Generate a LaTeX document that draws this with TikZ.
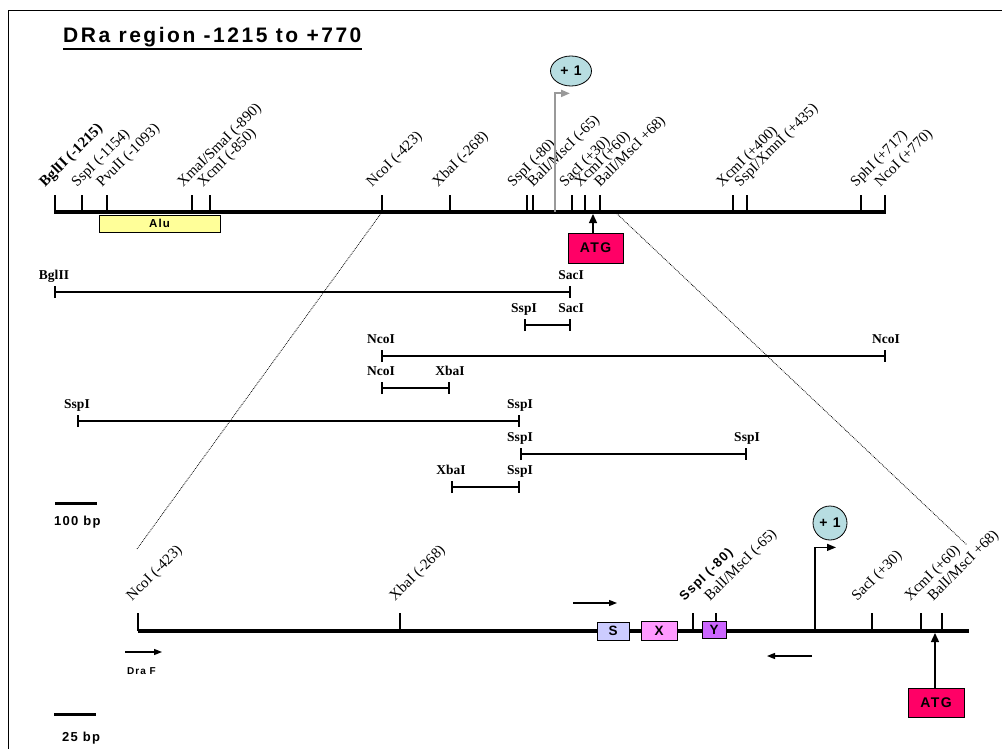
\documentclass[tikz,border=0pt]{standalone}
\usepackage{fontspec}
\setmainfont{Liberation Serif}
\newfontfamily\arialsp[LetterSpace=10]{Liberation Sans}
\newfontfamily\titlesp[LetterSpace=12]{Liberation Sans}
\usepackage{tikz}
\usetikzlibrary{arrows.meta,shapes.geometric}

\definecolor{atgpink}{HTML}{FF0066}
\definecolor{tssblue}{HTML}{B7DDE1}
\definecolor{aluyellow}{HTML}{FFFF99}
\definecolor{sblue}{HTML}{CCCCFF}
\definecolor{xpink}{HTML}{FF99FF}
\definecolor{ypurple}{HTML}{CC66FF}

\begin{document}
\begin{tikzpicture}[x=1pt,y=-1pt,
  dna/.style={line width=3.3pt},
  sitetick/.style={line width=1.5pt},
  site/.style={rotate=45,anchor=south west,inner sep=0pt,font=\fontsize{15}{15}\selectfont},
  frag/.style={line width=2.2pt,{Bar[width=12pt,line width=1.8pt]}-{Bar[width=12pt,line width=1.8pt]}},
  fraglab/.style={anchor=base,inner sep=0pt,font=\bfseries\fontsize{13.5}{13.5}\selectfont},
  sans/.style={font=\arialsp\bfseries\fontsize{#1}{#1}\selectfont},
  featbox/.style={draw,line width=0.8pt,inner sep=0pt},
  tss/.style={ellipse,draw,line width=0.8pt,fill=tssblue,inner sep=0pt},
  atgarrow/.style={line width=1.3pt,-{Triangle[length=9pt,width=8pt]}},
  primer/.style={line width=1.3pt,-{Triangle[length=8pt,width=6pt]}},
  zoomline/.style={densely dotted,line width=0.8pt}]
\useasboundingbox (0,0) rectangle (1002,749);
\draw[line width=0.9pt] (8,749) -- (8,10) -- (1002,10);

% title
\node[font=\titlesp\bfseries\fontsize{21}{21}\selectfont,anchor=base west,inner sep=0pt] (title) at (63,43) {DRa region -1215 to +770};
\draw[line width=1.5pt] ([yshift=-6pt]title.base west) -- ([yshift=-6pt]title.base east);

% full region map
\coordinate (topL) at (54,212);
\coordinate (topR) at (886,212);
\draw[dna] (topL) -- (topR);
\foreach \x/\d/\t in {55/-10/{\textbf{BglII (-1215)}},82/-5/{SspI (-1154)},107/-5/{PvuII (-1093)},
    192/-9/{XmaI/SmaI (-890)},210/-7/{XcmI (-850)},382/-10/{NcoI (-423)},450/-12/{XbaI (-268)},
    527/-14/{SspI (-80)},533/0/{BalI/MscI (-65)},572/-7/{SacI (+30)},585/-5/{XcmI (+60)},
    600/0/{BalI/MscI +68)},733/-11/{XcmI (+400)},747/-7/{SspI/XmnI (+435)},
    861/-5/{SphI (+717)},885/-5/{NcoI (+770)}} {
  \draw[sitetick] (\x,212) -- (\x,195);
  \node[site] (top\x) at ({\x+(\d)+2.5},190) {\t};
}
\node[featbox,fill=aluyellow,minimum width=121pt,minimum height=17pt,sans=11.5] (alu) at (159.5,223.5) {Alu};

\node[tss,minimum width=41pt,minimum height=30pt,sans=14] (plusA) at (571,71) {+ 1};
\coordinate (tssA) at (555,212);
\draw[line width=2pt,black!40,-{Triangle[length=9pt,width=7pt]}] (tssA) |- ([shift={(-1pt,-7pt)}]plusA.south);

\node[featbox,fill=atgpink,minimum width=55pt,minimum height=30pt,sans=14] (atgA) at (595.5,248) {ATG};
\coordinate (startA) at (593,214);
\draw[atgarrow] (atgA.north -| startA) -- (startA);

% fragments
\foreach \i/\y/\a/\b/\la/\lb in {1/292/54/571/BglII/SacI,2/325/524/571/SspI/SacI,
    3/356/381/886/NcoI/NcoI,4/388/381/450/NcoI/XbaI,5/421/77/520/SspI/SspI,
    6/454/520/747/SspI/SspI,7/487/451/520/XbaI/SspI} {
  \coordinate (f\i-a) at (\a,\y);
  \coordinate (f\i-b) at (\b,\y);
  \draw[frag] (f\i-a) -- (f\i-b);
  \node[fraglab] (f\i-la) at ([yshift=12.5pt]f\i-a) {\la};
  \node[fraglab] (f\i-lb) at ([yshift=12.5pt]f\i-b) {\lb};
}

% zoom lines
\coordinate (ncoA) at (382,212);
\coordinate (zoomA) at (137,549);
\coordinate (mscA) at (614,211);
\coordinate (zoomB) at (967,545);
\draw[zoomline] (ncoA) -- (zoomA);
\draw[zoomline] (mscA) -- (zoomB);

% scale bars
\draw[line width=3pt] (55,503) -- (97,503);
\node[sans=13,anchor=base west,inner sep=0pt] (bar100) at (54,525) {100 bp};
\draw[line width=3pt] (54,714) -- (96,714);
\node[sans=13,anchor=base west,inner sep=0pt] (bar25) at (62,741) {25 bp};

% promoter map
\coordinate (botL) at (138,631);
\coordinate (botR) at (969,631);
\draw[dna] (botL) -- (botR);
\foreach \x/\d/\t in {138/-6/{NcoI (-423)},400/-5/{XbaI (-268)},
    693/-9/{\arialsp\bfseries\fontsize{13}{13}\selectfont SspI (-80)},716/-6/{BalI/MscI (-65)},
    872/-15/{SacI (+30)},921/-11/{XcmI (+60)},942/-9/{BalI/MscI +68)}} {
  \draw[sitetick] (\x,631) -- (\x,613);
  \node[site] (bot\x) at ({\x+(\d)+2.5},604) {\t};
}
\node[featbox,fill=sblue,minimum width=32pt,minimum height=18pt,sans=13.5] (boxS) at (613,631) {S};
\node[featbox,fill=xpink,minimum width=36pt,minimum height=19pt,sans=13.5] (boxX) at (659,630.5) {X};
\node[featbox,fill=ypurple,minimum width=24pt,minimum height=17pt,sans=13.5] (boxY) at (714,629.5) {Y};

\node[tss,minimum width=34pt,minimum height=34pt,sans=14] (plusB) at (830,523) {+ 1};
\coordinate (tssB) at (815,631);
\draw[line width=1.3pt,-{Triangle[length=9pt,width=7pt]}] (tssB) |- ([shift={(6pt,-7pt)}]plusB.south);

\node[featbox,fill=atgpink,minimum width=56pt,minimum height=29pt,sans=14] (atgB) at (936,702.5) {ATG};
\coordinate (startB) at (935,633);
\draw[atgarrow] (atgB.north -| startB) -- (startB);

% primers
\coordinate (fwdA) at (573,603);
\coordinate (fwdB) at (617,603);
\draw[primer] (fwdA) -- (fwdB);
\coordinate (revA) at (812,656);
\coordinate (revB) at (767,656);
\draw[primer] (revA) -- (revB);
\coordinate (draA) at (125,652);
\coordinate (draB) at (162,652);
\draw[primer] (draA) -- (draB);
\node[sans=10,anchor=base west,inner sep=0pt] (draF) at (127,674) {Dra F};
\end{tikzpicture}
\end{document}
